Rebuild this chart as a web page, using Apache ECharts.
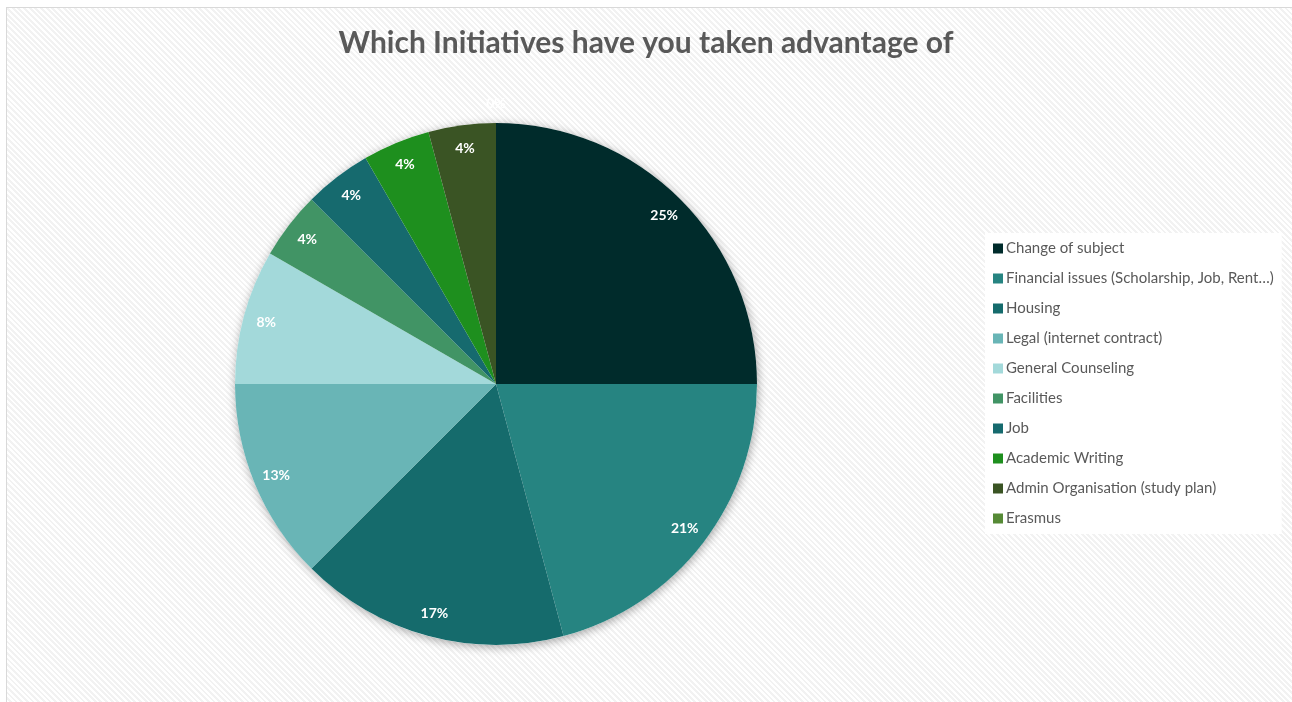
<!DOCTYPE html>
<html>
<head>
<meta charset="utf-8">
<script src="https://cdn.jsdelivr.net/npm/echarts@6/dist/echarts.min.js"></script>
<style>
html,body{margin:0;padding:0;background:#fff;}
#frame{position:absolute;left:6px;top:7px;width:1290px;height:700px;border:1px solid #d9d9d9;
background:repeating-linear-gradient(45deg,#ffffff 0px,#ffffff 2px,#f2f2f2 2px,#f2f2f2 4px);}
#chart{position:absolute;left:0;top:0;width:1292px;height:702px;}
</style>
</head>
<body>
<div id="frame"></div>
<div id="chart"></div>
<script>
const titleText = 'Which Initiatives have you taken advantage of';
const categories = ['Change of subject','Financial issues (Scholarship, Job, Rent…)','Housing','Legal (internet contract)','General Counseling','Facilities','Job','Academic Writing','Admin Organisation (study plan)','Erasmus'];
const counts = [6,5,4,3,2,1,1,1,1,0];
const colors = ['#002b2b','#268481','#156b6c','#69b5b6','#a3d9da','#419465','#166a6e','#1e8f1e','#3a5424','#568a36'];

const R = 261;
const center = [496, 384];
const FONT = 'Lato, "Open Sans", sans-serif';

const mainData = categories.map((n,i)=>({name:n, value:counts[i], itemStyle:{color:colors[i]}}));
const labelData = categories.map((n,i)=>{
  const d = {name:n, value:counts[i]};
  if (counts[i] === 0) d.label = {offset:[0,-43]};
  return d;
});

const chart = echarts.init(document.getElementById('chart'), null, {renderer:'canvas'});
chart.setOption({
  backgroundColor:'transparent',
  animation:false,
  color: colors,
  title:{text:titleText, left:'center', top:23,
    textStyle:{fontFamily:FONT, fontSize:30, fontWeight:'bold', color:'#595959'}},
  legend:{
    orient:'vertical', left:985, top:233, padding:[8,8,8,8],
    backgroundColor:'#ffffff',
    data: categories,
    itemWidth:10, itemHeight:10, itemGap:15,
    icon:'rect',
    textStyle:{fontFamily:FONT, fontSize:15, color:'#595959', padding:[0,0,0,-2]}
  },
  series:[
    {type:'pie', silent:true, radius:[0,R], center:center, startAngle:90, clockwise:true,
     data:[{name:'_bg', value:1}], label:{show:false}, labelLine:{show:false},
     itemStyle:{color:'#ffffff', shadowBlur:10, shadowColor:'rgba(0,0,0,0.35)', shadowOffsetX:1, shadowOffsetY:2},
     legendHoverLink:false, z:1},
    {type:'pie', radius:[0,R], center:center, startAngle:90, clockwise:true,
     avoidLabelOverlap:false, label:{show:false}, labelLine:{show:false},
     data: mainData, z:2},
    {type:'pie', silent:true, radius:[R*0.8,R], center:center, startAngle:90, clockwise:true,
     avoidLabelOverlap:false, percentPrecision:0,
     itemStyle:{color:'rgba(0,0,0,0)'},
     label:{show:true, position:'inside', formatter:'{d}%', color:'#ffffff', fontFamily:FONT, fontSize:14, fontWeight:'bold'},
     labelLine:{show:false},
     data: labelData, z:3}
  ]
});
</script>
</body>
</html>
